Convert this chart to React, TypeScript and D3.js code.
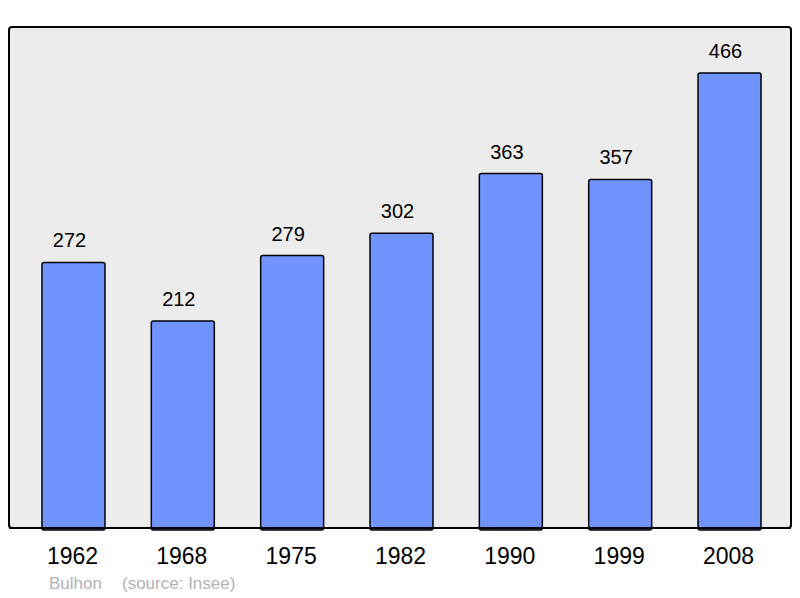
import React, { useEffect, useRef } from "react";
import * as d3 from "d3";

const years = ["1962", "1968", "1975", "1982", "1990", "1999", "2008"];
const population = [272, 212, 279, 302, 363, 357, 466];
const townName = "Bulhon";
const sourceNote = "(source: Insee)";

export default function App() {
  const ref = useRef<SVGSVGElement | null>(null);
  useEffect(() => {
    const node = ref.current; if (!node) return;
    const svg = d3.select(node);
    const w = 800, h = 598;
    svg.attr("viewBox", `0 0 ${w} ${h}`).selectAll("*").remove();
    const font = "'Liberation Sans', Arial, sans-serif";
    const base = 528;

    // panel
    svg.append("rect").attr("x", 9).attr("y", 27).attr("width", 782).attr("height", 501)
      .attr("rx", 3).attr("fill", "#ececec").attr("stroke", "#000").attr("stroke-width", 2);

    const x = d3.scaleBand<string>().domain(years).range([18.8, 784.2]).paddingInner(0.424).paddingOuter(0.212);
    const y = d3.scaleLinear().domain([0, 500]).range([base, base - 488.2]);

    const data = years.map((yr, i) => ({ yr, v: population[i] }));
    const g = svg.append("g");
    g.selectAll("rect.bar").data(data).join("rect").attr("class", "bar")
      .attr("x", (d) => x(d.yr)!).attr("y", (d) => y(d.v))
      .attr("width", x.bandwidth()).attr("height", (d) => base - y(d.v) + 2)
      .attr("rx", 2).attr("fill", "#7093ff").attr("stroke", "#000").attr("stroke-width", 1.5);

    // redraw bottom border over bar bottoms
    svg.append("line").attr("x1", 9).attr("x2", 791).attr("y1", base).attr("y2", base)
      .attr("stroke", "#000").attr("stroke-width", 2);

    g.selectAll("text.val").data(data).join("text").attr("class", "val")
      .attr("x", (d) => x(d.yr)! + x.bandwidth() / 2 - 4).attr("y", (d) => y(d.v) - 15)
      .attr("text-anchor", "middle").attr("font-family", font).attr("font-size", 20).attr("fill", "#000")
      .text((d) => d.v);

    g.selectAll("text.yr").data(data).join("text").attr("class", "yr")
      .attr("x", (d) => x(d.yr)! + x.bandwidth() / 2 - 1).attr("y", 564)
      .attr("text-anchor", "middle").attr("font-family", font).attr("font-size", 23).attr("fill", "#000")
      .text((d) => d.yr);

    svg.append("text").attr("x", 49).attr("y", 589).attr("font-family", font).attr("font-size", 17)
      .attr("fill", "#b3b3b3").text(townName);
    svg.append("text").attr("x", 122).attr("y", 589).attr("font-family", font).attr("font-size", 17)
      .attr("fill", "#b3b3b3").text(sourceNote);
  }, []);
  return <svg ref={ref} width={800} height={598} style={{ position: "absolute", left: 0, top: 0 }} />;
}
